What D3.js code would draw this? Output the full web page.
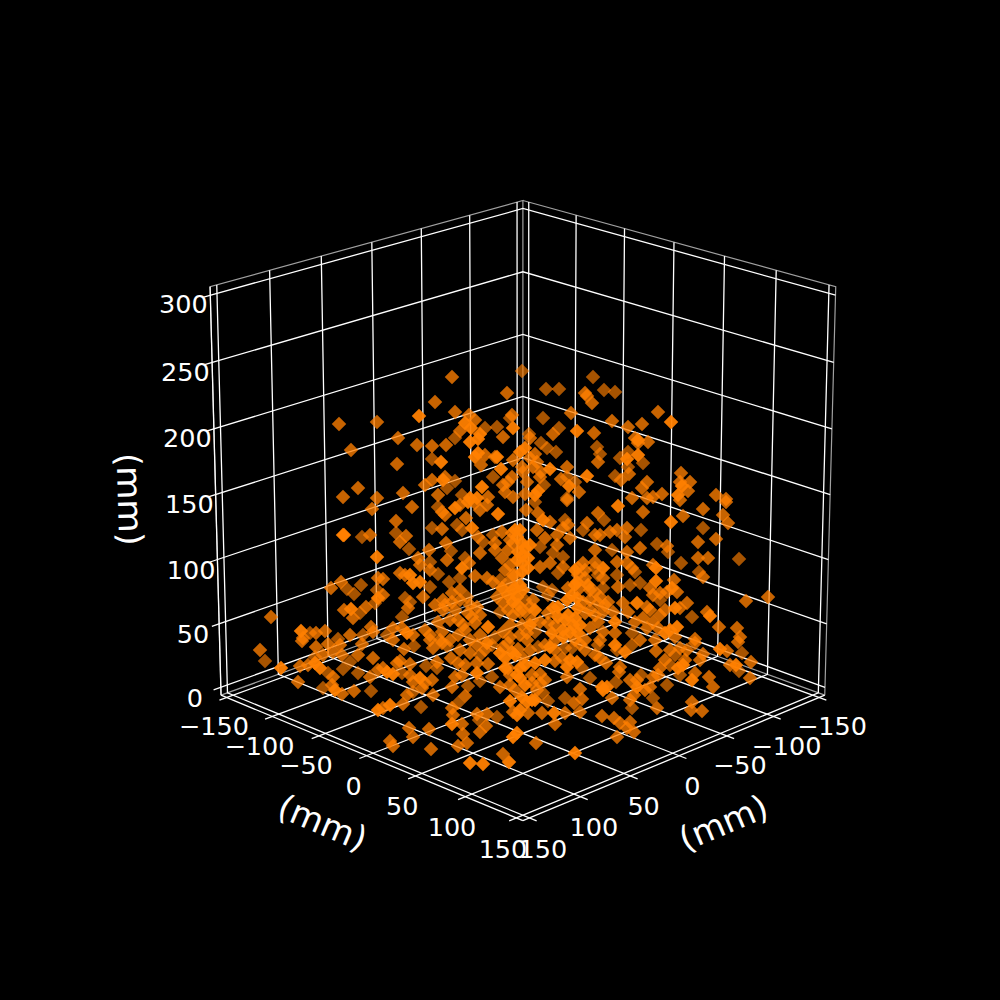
<!DOCTYPE html>
<html><head><meta charset="utf-8">
<script src="https://cdnjs.cloudflare.com/ajax/libs/d3/7.8.5/d3.min.js"></script>
<style>html,body{margin:0;padding:0;background:#000}svg{display:block}text{font-family:"DejaVu Sans";fill:#fff}</style>
</head><body><svg id="c" width="1000" height="1000"></svg>
<script>
const xTicks=[-150,-100,-50,0,50,100,150];
const yTicks=[-150,-100,-50,0,50,100,150];
const zTicks=[0,50,100,150,200,250,300];
const axisLabel="(mm)";
// view-plane readings: [across, height, shade (1 near, 2 mid, 3 far)]
const scatter=[
[-161,376,2],[-123,378,2],[-149,350,2],[-142,312,2],[-157,303,2],[-123,302,2],
[-48,423,2],[7,407,2],[-65,398,2],[-45,388,2],[-81,384,1],[-31,385,2],[-25,380,2],[-35,377,1],[-15,372,3],[-3,373,3],[12,385,2],[10,382,3],[-40,369,2],[-45,362,3],[-29,372,1],[-20,366,1],[-22,361,1],[-30,358,1],[3,363,2],[13,372,1],[-102,362,2],[-83,355,2],[-68,354,2],[-54,355,2],[-68,341,3],[-59,338,1],[-103,336,2],[-22,347,1],[-25,343,1],[-15,345,2],[-5,343,2],[-3,343,1],[-19,335,2],[13,340,2],[1,331,1],[-7,323,3],[-55,323,2],[-57,320,1],[-75,315,2],[-68,320,2],[-45,319,3],[-53,312,3],[-18,313,1],[3,315,2],[12,323,2],[8,318,2],[-97,307,2],[-62,305,2],[-38,305,3],[-30,302,1],[-23,302,1],[-12,303,2],[5,308,2],[13,303,2],
[22,429,3],[46,411,3],[59,411,3],[93,423,3],[104,410,3],[115,408,3],[85,407,2],[87,404,2],[92,397,2],[71,387,2],[43,382,3],[112,379,2],[128,373,2],[142,376,2],[59,372,3],[53,366,2],[77,369,1],[94,367,2],[29,366,3],[30,362,2],[41,357,3],[47,352,3],[56,348,3],[135,362,2],[138,360,1],[138,357,2],[148,358,2],[97,353,3],[100,346,3],[98,338,2],[25,352,1],[20,348,1],[35,346,2],[30,342,2],[37,338,2],[33,333,2],[128,348,3],[120,342,3],[127,341,1],[138,345,1],[143,337,3],[128,333,3],[129,326,2],[22,333,2],[23,328,2],[50,331,1],[41,328,2],[40,323,2],[67,333,2],[87,324,1],[115,324,3],[121,320,2],[61,321,2],[67,323,3],[75,318,3],[69,314,1],[79,308,2],[27,318,2],[44,315,3],[38,309,1],[35,305,1],[25,306,2],[67,302,3],[147,318,2],[142,312,2],[132,302,2],[147,302,2],
[158,388,2],[171,378,1],[181,327,2],[180,318,2],[190,318,2],[182,314,1],[188,309,2],[162,306,2],[178,305,1],[153,303,2],[216,305,2],[226,301,2],
[-128,291,2],[-156,265,1],[-157,265,1],[-138,263,3],[-130,265,2],[-123,243,1],[-159,218,2],[-169,212,2],[-153,211,3],[-139,215,3],[-146,206,3],[-123,210,3],[-122,222,2],[-122,202,1],[-125,197,3],[-229,183,2],[-156,190,2],[-149,191,1],[-134,193,2],[-140,187,3],[-147,182,2],[-129,173,2],[-199,169,1],[-190,167,3],[-184,167,2],[-175,169,2],[-197,162,2],[-150,165,2],[-162,161,3],[-137,165,3],[-127,168,2],
[-88,293,2],[-104,279,2],[-104,267,3],[-94,264,2],[-100,258,2],[-91,251,3],[-68,272,3],[-58,271,2],[-62,293,3],[-55,285,2],[-58,288,2],[-45,292,1],[-40,295,2],[-32,298,1],[-25,297,2],[-20,290,2],[-13,295,2],[-2,286,1],[-43,275,3],[-38,270,3],[-34,282,2],[-28,272,1],[-22,263,2],[-17,258,3],[-7,265,3],[2,268,2],[12,267,2],[-5,257,2],[-5,250,2],[2,242,2],[8,250,2],[13,257,2],[-71,250,2],[-82,242,2],[-54,257,2],[-49,249,3],[-53,240,2],[-80,235,2],[-70,238,3],[-70,230,2],[-62,226,3],[-35,242,3],[-31,237,2],[-38,232,1],[-20,247,2],[-25,224,2],[-40,222,3],[-51,218,3],[-117,221,2],[-95,225,2],[-90,225,1],[-87,217,1],[-80,218,1],[-100,227,2],[-70,213,3],[-77,203,2],[-117,205,2],[-95,202,3],[-90,198,3],[-92,192,2],[-98,183,3],[-65,195,2],[-57,200,2],[-48,207,2],[-40,210,2],[-33,203,3],[-48,198,2],[-57,190,2],[-23,193,2],[-32,187,2],[-28,183,2],[-50,180,2],[-42,180,2],[-62,178,2],[-37,175,2],[-25,177,2],[-13,222,2],[-7,218,2],[0,220,3],[8,218,2],[13,225,2],[2,212,1],[8,205,1],[-3,203,2],[13,198,1],[3,197,2],[8,190,2],[13,185,2],[0,188,3],[-12,173,1],[3,168,2],[-107,172,2],[-98,172,2],[-113,165,3],[-93,167,1],[-87,165,2],[-70,165,2],[-58,168,2],[-42,165,2],[-20,165,2],[10,163,2],[-5,163,3],
[35,298,3],[67,300,2],[118,294,1],[143,288,2],[26,290,2],[38,287,2],[43,280,1],[50,278,2],[98,287,2],[104,280,3],[87,277,2],[83,270,3],[65,280,3],[68,275,2],[63,272,2],[37,270,2],[57,265,2],[70,262,2],[95,265,2],[100,265,2],[110,268,2],[117,270,2],[127,272,2],[141,270,3],[125,263,2],[40,253,3],[45,262,2],[57,255,2],[53,247,3],[95,250,2],[112,250,3],[127,248,2],[140,252,2],[17,263,1],[22,257,1],[18,248,1],[23,245,1],[28,242,1],[22,237,1],[40,233,2],[50,237,2],[63,243,3],[63,233,2],[58,227,3],[117,238,2],[95,238,2],[83,237,2],[78,232,2],[103,232,1],[95,232,3],[127,237,2],[132,232,2],[135,228,3],[117,225,3],[78,225,2],[85,222,2],[103,222,2],[98,225,3],[140,217,3],[130,215,3],[118,213,2],[68,212,2],[80,212,2],[88,215,1],[95,208,2],[103,212,3],[77,218,1],[15,212,1],[20,215,1],[23,210,1],[17,203,1],[25,200,3],[33,200,2],[30,193,2],[20,188,2],[48,205,3],[52,210,3],[43,213,3],[58,193,1],[53,192,1],[67,200,1],[77,202,1],[72,205,1],[83,198,2],[90,200,2],[98,197,2],[108,198,2],[113,188,2],[123,197,2],[137,197,1],[128,188,2],[147,193,2],[85,187,2],[78,192,1],[68,185,1],[75,182,1],[95,185,2],[103,188,2],[98,178,2],[115,178,1],[135,178,2],[143,182,2],[48,187,2],[58,183,1],[40,178,2],[48,177,2],[22,175,2],[32,180,2],[27,167,2],[35,168,3],[52,167,1],[63,170,1],[73,175,1],[78,167,1],[63,163,1],[90,172,2],[103,168,2],[115,167,2],[132,167,3],[147,172,2],
[180,300,2],[203,291,2],[226,298,2],[183,284,2],[171,278,1],[223,285,2],[228,277,2],[203,272,3],[198,258,2],[216,261,2],[157,256,3],[167,254,2],[168,248,3],[198,242,2],[208,242,2],[239,241,3],[181,237,3],[153,235,2],[156,232,1],[199,228,3],[203,223,2],[156,219,1],[174,220,2],[268,203,2],[246,199,2],[153,205,2],[160,207,2],[167,208,2],[172,212,1],[177,208,2],[150,212,2],[160,200,3],[187,197,2],[175,192,1],[180,192,2],[192,183,3],[207,188,2],[210,184,1],[219,173,2],[237,172,2],[240,163,2],[177,173,1],[170,170,1],[153,178,2],[158,172,2],[165,167,1],[175,163,2],[195,161,2],
[-240,150,2],[-235,139,3],[-219,132,1],[-202,118,2],[-198,159,2],[-184,153,2],[-172,156,2],[-160,155,2],[-138,156,2],[-185,143,3],[-177,145,2],[-167,148,2],[-158,145,2],[-142,145,2],[-127,142,2],[-150,138,3],[-200,134,2],[-192,135,2],[-185,137,1],[-180,132,1],[-157,131,3],[-142,127,3],[-130,123,2],[-122,130,2],[-172,127,3],[-167,123,2],[-177,112,3],[-168,115,2],[-165,110,1],[-158,106,2],[-146,109,2],[-129,109,3],[-122,90,1],
[-107,160,2],[-96,151,2],[-86,154,3],[-67,152,2],[-70,160,2],[-58,157,2],[-53,154,3],[-23,155,2],[-13,157,1],[-8,155,3],[-30,147,2],[-20,145,3],[3,153,2],[8,157,2],[0,147,1],[5,142,1],[12,148,1],[-100,139,2],[-103,137,2],[-90,136,2],[-74,134,3],[-63,138,2],[-63,132,3],[-49,142,2],[-42,137,2],[-35,135,2],[-23,137,2],[-12,136,2],[-117,132,2],[-113,128,1],[-107,126,1],[-98,127,3],[-90,125,2],[-80,122,1],[-75,117,2],[-68,120,2],[-87,118,2],[-78,112,2],[-87,108,3],[-67,105,2],[-93,105,2],[-45,123,2],[-38,125,2],[-48,113,2],[-23,127,1],[-20,119,3],[-8,123,3],[0,113,2],[10,125,2],[8,132,2],[-32,114,3],[-35,104,2],[-42,97,3],[-48,92,2],[-47,85,2],[-48,76,1],[-38,76,2],[-37,66,2],[-42,54,2],[-33,57,2],[-23,86,2],[-21,80,3],[-13,86,2],[-3,83,3],[-14,74,2],[-20,68,2],[10,99,1],[13,88,2],[13,63,1],[-110,95,1],[-117,92,2],[-97,96,2],[-79,93,3],[-91,72,2],[-71,71,2],[-87,63,2],[-110,59,2],[-107,54,2],[-69,51,2],[3,46,2],[9,38,1],[-30,37,1],[-17,36,1],
[27,160,2],[18,151,2],[45,155,2],[50,153,1],[38,153,3],[65,152,3],[72,152,3],[80,156,2],[85,150,2],[98,155,3],[115,155,1],[132,155,3],[125,148,1],[117,150,3],[95,145,2],[100,142,2],[106,137,2],[35,137,1],[23,142,2],[55,139,2],[62,142,2],[70,140,1],[77,138,1],[67,133,1],[82,132,3],[120,133,2],[119,128,2],[20,132,1],[17,125,1],[20,122,1],[32,125,2],[40,126,2],[67,123,2],[90,122,3],[116,118,3],[141,125,3],[130,120,2],[137,120,2],[137,113,1],[145,110,2],[32,117,2],[40,117,2],[37,110,2],[43,107,3],[80,111,2],[102,113,1],[107,113,1],[103,110,1],[112,102,2],[65,102,3],[74,97,2],[82,101,2],[48,99,3],[130,100,2],[134,105,2],[132,92,3],[22,103,1],[27,98,1],[32,100,1],[20,90,1],[28,87,2],[17,85,1],[42,87,2],[54,87,1],[65,87,2],[80,88,2],[102,84,2],[114,82,2],[120,77,2],[130,78,2],[127,72,2],[134,68,2],[55,76,2],[117,63,2],[17,67,1],[36,57,2],[75,47,1],
[156,149,2],[175,145,3],[180,152,2],[187,150,2],[195,157,2],[203,146,2],[200,140,2],[220,151,1],[227,149,2],[238,158,2],[242,147,3],[251,138,2],[230,135,2],[236,135,1],[239,129,3],[250,122,2],[160,132,2],[170,135,3],[178,132,1],[183,135,1],[158,125,2],[180,125,3],[195,127,2],[192,120,1],[209,123,2],[213,113,2],[167,115,3],[153,123,2],[150,113,2],[153,102,3],[192,98,2],[191,90,2],[202,89,2],[157,92,2],
[15,270,1],[10,260,2],[20,270,1],[25,252,1],[17,240,1],[10,235,2],[30,255,1],[22,228,1],[15,225,2],[5,230,2],[28,232,1],[18,195,1],[12,210,2],[25,188,2],[35,190,1],[10,175,2],[20,165,2],[30,175,1],
[75,230,1],[85,230,2],[90,210,2],[100,203,2],[75,215,1],[90,190,2],[105,195,2],[80,175,1],[70,168,1],[55,175,2],[65,180,1],[85,160,2],[75,160,2],[55,160,2],[100,160,2],
[-55,195,2],[-45,190,2],[-40,200,2],[-30,195,2],[-20,185,2],[-35,170,2],[-50,160,2],[-60,160,2],[-75,170,2],[-30,160,2],[-40,150,2],[-15,150,2],
[5,132,1],[15,145,1],[25,135,1],[30,150,2],[45,140,1],[55,150,2],[25,115,1],[15,110,2],[35,100,1],[45,120,2],[10,115,2],
[160,185,2],[165,190,2],[150,190,2],[155,160,2],[170,150,2],[165,140,2],[185,140,2],[140,160,2]
];
const cx=522.9,cy=494.6,kp=4162,dist=10,elev=20*Math.PI/180,azim=45*Math.PI/180,half=0.522;
const lim=156.25,zMin=-6.25,zMax=306.25;
const sX=d3.scaleLinear().domain([-lim,lim]).range([-half,half]);
const sY=d3.scaleLinear().domain([-lim,lim]).range([-half,half]);
const sZ=d3.scaleLinear().domain([zMin,zMax]).range([-half,half]);
const r=[-Math.sin(azim),Math.cos(azim),0];
const c=[Math.cos(elev)*Math.cos(azim),Math.cos(elev)*Math.sin(azim),Math.sin(elev)];
const u=[-Math.sin(elev)*Math.cos(azim),-Math.sin(elev)*Math.sin(azim),Math.cos(elev)];
const dot=(a,b)=>a[0]*b[0]+a[1]*b[1]+a[2]*b[2];
function proj(x,y,z){const P=[sX(x),sY(y),sZ(z)];const w=dist-dot(P,c);return [cx+kp*dot(P,r)/w,cy-kp*dot(P,u)/w];}
const svg=d3.select("#c");
svg.append("rect").attr("width",1000).attr("height",1000).attr("fill","#000");
const line=d3.line();
const poly=(pts,col,w)=>svg.append("path").attr("d",line(pts.map(p=>proj(...p)))).attr("fill","none").attr("stroke",col).attr("stroke-width",w);
// pane outlines
const edge="#a0a0a0";
poly([[lim,-lim,zMin],[lim,-lim,zMax],[-lim,-lim,zMax],[-lim,-lim,zMin],[lim,-lim,zMin]],edge,1.2);
poly([[-lim,lim,zMin],[-lim,lim,zMax],[-lim,-lim,zMax]],edge,1.2);
poly([[-lim,-lim,zMin],[-lim,lim,zMin]],edge,1.2);
// grid
const gw=1.3,out=7;
xTicks.forEach(t=>poly([[t,lim+out,zMin],[t,-lim,zMin],[t,-lim,zMax]],"#fff",gw));
yTicks.forEach(t=>poly([[lim+out,t,zMin],[-lim,t,zMin],[-lim,t,zMax]],"#fff",gw));
zTicks.forEach(t=>poly([[lim+out,-lim,t],[-lim,-lim,t],[-lim,lim,t]],"#fff",gw));
// axis lines
poly([[lim,-lim,zMin],[lim,lim,zMin]],"#fff",gw);
poly([[-lim,lim,zMin],[lim,lim,zMin]],"#fff",gw);
poly([[lim,-lim,zMin],[lim,-lim,zMax]],"#fff",gw);
// points
const uS=d3.scaleLinear().domain([-300,300]).range([200,800]);
const vS=d3.scaleLinear().domain([0,600]).range([800,200]);
const alpha=d3.scaleOrdinal().domain([1,2,3]).range([0.95,0.78,0.65]);
const sym=d3.symbol().type(d3.symbolSquare).size(106);
svg.append("g").selectAll("path").data(scatter.slice().sort((a,b)=>b[2]-a[2])).join("path")
 .attr("d",sym).attr("transform",d=>`translate(${uS(d[0])},${vS(d[1])}) rotate(45)`)
 .attr("fill","#ff7f00").attr("fill-opacity",d=>alpha(d[2]));
// tick labels
const minus=t=>String(t).replace("-","\u2212");
const txt=(p,s,size,rot)=>svg.append("text").attr("transform",`translate(${p[0]},${p[1]}) rotate(${rot||0})`).attr("text-anchor","middle").attr("dominant-baseline","central").attr("font-size",size).text(s);
const ts=25.5;
yTicks.forEach(t=>txt(proj(lim+13,t,zMin-19),minus(t),ts));
xTicks.forEach(t=>txt(proj(t,lim+13,zMin-19),minus(t),ts));
zTicks.forEach(t=>txt(proj(lim+25,-lim,t-1),minus(t),ts));
// axis labels
txt(proj(lim+43,0,zMin-38),axisLabel,34,23);
txt(proj(0,lim+43,zMin-38),axisLabel,34,-23);
txt(proj(lim+50,-lim-36,150),axisLabel,34,88.5);
</script></body></html>
